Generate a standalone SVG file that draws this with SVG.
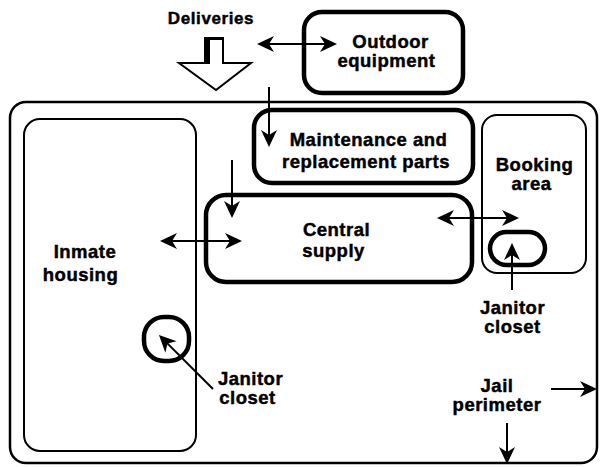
<svg xmlns="http://www.w3.org/2000/svg" width="601" height="467" viewBox="0 0 601 467">
<style>
.lbl{font-family:"Liberation Sans",Arial,Helvetica,sans-serif;font-weight:bold;font-size:18.5px;letter-spacing:0.5px;fill:#000;stroke:#000;stroke-width:0.45px;text-anchor:middle}
.thick{fill:#fff;stroke:#000;stroke-width:4.5}
.thin{fill:none;stroke:#000;stroke-width:2}
.conn{fill:none;stroke:#000;stroke-width:2}
</style>
<defs>
<marker id="ah" viewBox="-18 -9 22 18" refX="-3" refY="0" markerWidth="22" markerHeight="18" markerUnits="userSpaceOnUse" orient="auto-start-reverse">
<path d="M0,0 L-17,-8 L-12,0 L-17,8 Z" fill="#000"/>
</marker>
</defs>
<rect width="601" height="467" fill="#fff"/>

<g id="jail-perimeter">
<rect x="10" y="102" width="587" height="361" rx="16" fill="none" stroke="#000" stroke-width="2.5"/>
<text class="lbl" x="497" y="392">Jail</text>
<text class="lbl" x="497" y="411">perimeter</text>
</g>

<g id="inmate-housing">
<rect x="24" y="119" width="172" height="332" rx="16" class="thin"/>
<text class="lbl" x="85" y="258">Inmate</text>
<text class="lbl" x="80.5" y="281">housing</text>
</g>

<g id="janitor-closet-left">
<rect x="144" y="317" width="45" height="44" rx="20" class="thick"/>
<text class="lbl" x="250.5" y="385">Janitor</text>
<text class="lbl" x="247.5" y="404">closet</text>
</g>

<g id="deliveries">
<polygon points="206,38 223,38 223,63 251,63 216,90 179,63 206,63" fill="#fff" stroke="#000" stroke-width="2"/>
<rect x="204" y="37" width="6" height="27" fill="#000"/>
<rect x="204" y="37" width="20" height="3" fill="#000"/>
<text class="lbl" x="211" y="24" style="font-size:17px;letter-spacing:0.6px">Deliveries</text>
</g>

<g id="outdoor-equipment">
<rect x="304" y="12" width="159" height="81" rx="18" class="thick"/>
<text class="lbl" x="390.5" y="48">Outdoor</text>
<text class="lbl" x="386.5" y="67">equipment</text>
</g>

<g id="maintenance">
<rect x="254" y="110" width="219" height="73" rx="18" class="thick"/>
<text class="lbl" x="368.5" y="146">Maintenance and</text>
<text class="lbl" x="366" y="168">replacement parts</text>
</g>

<g id="central-supply">
<rect x="206" y="195" width="266" height="87" rx="20" class="thick"/>
<text class="lbl" x="336.5" y="236">Central</text>
<text class="lbl" x="333.5" y="257">supply</text>
</g>

<g id="booking-area">
<rect x="482" y="115" width="104" height="158" rx="15" class="thin"/>
<text class="lbl" x="534.5" y="171">Booking</text>
<text class="lbl" x="531.5" y="190">area</text>
</g>

<g id="janitor-closet-right">
<rect x="490" y="232" width="55" height="33" rx="16.5" class="thick"/>
<text class="lbl" x="512.5" y="314">Janitor</text>
<text class="lbl" x="512.5" y="333">closet</text>
</g>

<g id="connectors">
<line x1="260" y1="44" x2="334" y2="44" class="conn" marker-start="url(#ah)" marker-end="url(#ah)"/>
<line x1="269" y1="87" x2="269" y2="144" class="conn" marker-end="url(#ah)"/>
<line x1="232" y1="160" x2="232" y2="215" class="conn" marker-end="url(#ah)"/>
<line x1="163" y1="241" x2="239" y2="241" class="conn" marker-start="url(#ah)" marker-end="url(#ah)"/>
<line x1="440" y1="218" x2="516" y2="218" class="conn" marker-start="url(#ah)" marker-end="url(#ah)"/>
<line x1="512" y1="290" x2="512" y2="246" class="conn" marker-end="url(#ah)"/>
<line x1="213" y1="389" x2="161.1" y2="337.1" class="conn" marker-end="url(#ah)"/>
<line x1="551" y1="389" x2="594" y2="389" class="conn" marker-end="url(#ah)"/>
<line x1="507" y1="423" x2="507" y2="461" class="conn" marker-end="url(#ah)"/>
</g>
</svg>
